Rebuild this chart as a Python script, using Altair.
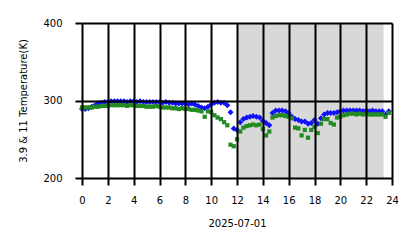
import altair as alt
import pandas as pd

# time in hours, 15-minute steps
hours = [i * 0.25 for i in range(96)]

t39 = [
    289, 289, 290, 292, 294, 296, 297, 298,
    298, 299, 299, 299, 299, 299, 298, 299,
    299, 298, 299, 298, 298, 298, 298, 298,
    298, 297, 298, 297, 297, 296, 296, 296,
    296, 295, 296, 295, 293, 291, 290, 292,
    295, 297, 298, 297, 297, 294, 285, 264,
    262, 272, 276, 278, 279, 280, 279, 278,
    274, 271, 268, 284, 287, 287, 287, 286,
    284, 279, 276, 275, 273, 273, 270, 271,
    275, 270, 277, 282, 284, 284, 284, 285,
    286, 287, 287, 287, 287, 287, 287, 286,
    287, 286, 287, 286, 286, 286, 282, 286,
]

t11 = [
    291, 291, 291, 291, 292, 292, 293, 293,
    293, 294, 294, 294, 294, 294, 293, 294,
    294, 293, 293, 293, 292, 292, 292, 293,
    292, 291, 291, 291, 290, 290, 289, 290,
    289, 289, 288, 288, 287, 286, 279, 286,
    285, 281, 278, 276, 272, 268, 243, 241,
    250, 260, 265, 267, 268, 269, 268, 269,
    263, 255, 260, 278, 280, 281, 281, 280,
    279, 277, 265, 264, 255, 262, 252, 262,
    266, 258, 270, 276, 276, 271, 269, 278,
    279, 281, 282, 283, 283, 282, 283, 282,
    283, 282, 282, 282, 282, 282, 279, 284,
]

night_start = [12.0]
night_end = [23.35]

x_ticks = list(range(0, 25, 2))
y_ticks = [200, 300, 400]

df39 = pd.DataFrame({"hour": hours, "temp": t39})
df11 = pd.DataFrame({"hour": hours, "temp": t11})
night = pd.DataFrame({"x": night_start, "x2": night_end, "y": [200], "y2": [400]})

xscale = alt.Scale(domain=[0, 24], nice=False, zero=False)
yscale = alt.Scale(domain=[200, 400], nice=False, zero=False)

axis_common = dict(
    grid=True, gridColor="black", gridWidth=2, gridOpacity=1,
    domain=False, tickColor="black", tickWidth=2, tickSize=7,
    labelFont="DejaVu Sans", labelFontSize=10, labelColor="black",
    titleFont="DejaVu Sans", titleFontSize=10, titleColor="black",
    titleFontWeight="normal", zindex=1, labelOverlap=False, labelFlush=False,
)

xaxis = alt.Axis(values=x_ticks, title="2025-07-01", labelPadding=10,
                 titleX=155, titleY=45, titleBaseline="middle",
                 labelAngle=0, **axis_common)
yaxis = alt.Axis(values=y_ticks, title="3.9 & 11 Temperature(K)", labelPadding=13,
                 titleX=-59, titleY=77.5, titleBaseline="middle", titleAngle=270,
                 **axis_common)

rect = alt.Chart(night).mark_rect(color="#d8d8d8").encode(
    x=alt.X("x:Q", scale=xscale, axis=xaxis),
    x2="x2:Q",
    y=alt.Y("y:Q", scale=yscale, axis=yaxis),
    y2="y2:Q",
)

blue = alt.Chart(df39).mark_point(shape="diamond", filled=True, color="#1010ff",
                                  size=36, opacity=1).encode(
    x=alt.X("hour:Q", scale=xscale, axis=xaxis),
    y=alt.Y("temp:Q", scale=yscale, axis=yaxis),
)

green = alt.Chart(df11).mark_point(shape="square", filled=True, color="#228b22",
                                   size=18, opacity=1).encode(
    x=alt.X("hour:Q", scale=xscale, axis=xaxis),
    y=alt.Y("temp:Q", scale=yscale, axis=yaxis),
)

chart = alt.layer(rect, blue, green).properties(
    width=310, height=155,
    autosize=alt.AutoSizeParams(type="none"),
    padding={"left": 82, "top": 23, "right": 26, "bottom": 70},
    background="white",
).configure_view(stroke=None)

chart.save("out.html", embed_options={"renderer": "svg", "actions": False})
